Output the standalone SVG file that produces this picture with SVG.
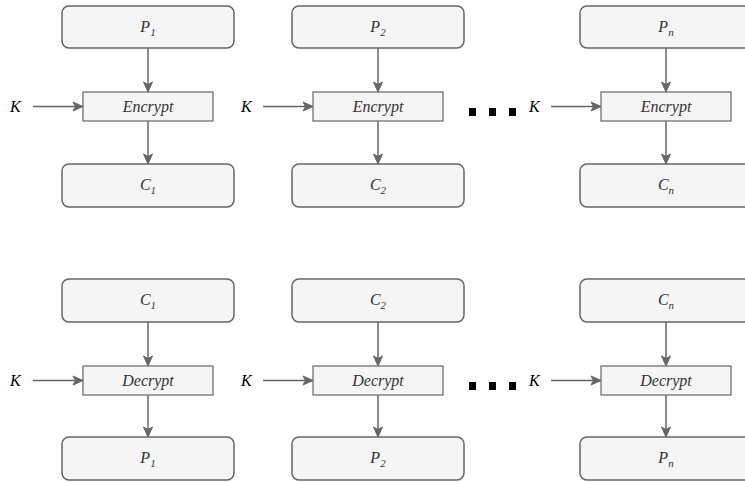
<svg xmlns="http://www.w3.org/2000/svg" width="745" height="482" viewBox="0 0 745 482">
<defs>
<marker id="ah" markerWidth="12" markerHeight="12" viewBox="0 0 12 12" refX="11" refY="6" orient="auto" markerUnits="userSpaceOnUse">
<path d="M1,1.5 L11,6 L1,10.5 L3.5,6 Z" fill="#666" stroke="#666" stroke-width="1"/>
</marker>
<style>
.big{fill:#f5f5f5;stroke:#666;stroke-width:1.5}
.op{fill:#f5f5f5;stroke:#666;stroke-width:1.2}
text{font-family:'Liberation Serif','Times New Roman','DejaVu Serif',serif;font-style:italic;font-size:16px}
.t{fill:#333;text-anchor:middle}
.k{fill:#000}
.sub{font-size:11px}
.c{stroke:#666;stroke-width:1.5;fill:none;marker-end:url(#ah)}
.dot{fill:#000}
</style>
</defs>
<g id="connectors">
<line class="c" x1="148" y1="48" x2="148" y2="92"/>
<line class="c" x1="148" y1="121" x2="148" y2="164"/>
<line class="c" x1="33" y1="106.5" x2="83" y2="106.5"/>
<line class="c" x1="378" y1="48" x2="378" y2="92"/>
<line class="c" x1="378" y1="121" x2="378" y2="164"/>
<line class="c" x1="263" y1="106.5" x2="313" y2="106.5"/>
<line class="c" x1="666" y1="48" x2="666" y2="92"/>
<line class="c" x1="666" y1="121" x2="666" y2="164"/>
<line class="c" x1="551" y1="106.5" x2="601" y2="106.5"/>
<line class="c" x1="148" y1="322" x2="148" y2="366"/>
<line class="c" x1="148" y1="395" x2="148" y2="437"/>
<line class="c" x1="33" y1="380.5" x2="83" y2="380.5"/>
<line class="c" x1="378" y1="322" x2="378" y2="366"/>
<line class="c" x1="378" y1="395" x2="378" y2="437"/>
<line class="c" x1="263" y1="380.5" x2="313" y2="380.5"/>
<line class="c" x1="666" y1="322" x2="666" y2="366"/>
<line class="c" x1="666" y1="395" x2="666" y2="437"/>
<line class="c" x1="551" y1="380.5" x2="601" y2="380.5"/>
</g>
<g id="P1_top"><rect class="big" x="62" y="6" width="172" height="42" rx="7"/><text class="t" x="148" y="32">P<tspan class="sub" dy="4">1</tspan></text></g>
<g id="enc1"><rect class="op" x="83" y="92" width="130" height="29"/><text class="t" x="148" y="112">Encrypt</text></g>
<g id="C1_top"><rect class="big" x="62" y="164" width="172" height="43" rx="7"/><text class="t" x="148" y="190">C<tspan class="sub" dy="4">1</tspan></text></g>
<g id="K1"><text class="k" x="10" y="112">K</text></g>
<g id="P2_top"><rect class="big" x="292" y="6" width="172" height="42" rx="7"/><text class="t" x="378" y="32">P<tspan class="sub" dy="4">2</tspan></text></g>
<g id="enc2"><rect class="op" x="313" y="92" width="130" height="29"/><text class="t" x="378" y="112">Encrypt</text></g>
<g id="C2_top"><rect class="big" x="292" y="164" width="172" height="43" rx="7"/><text class="t" x="378" y="190">C<tspan class="sub" dy="4">2</tspan></text></g>
<g id="K2"><text class="k" x="241" y="112">K</text></g>
<g id="Pn_top"><rect class="big" x="580" y="6" width="172" height="42" rx="7"/><text class="t" x="666" y="32">P<tspan class="sub" dy="4">n</tspan></text></g>
<g id="encn"><rect class="op" x="601" y="92" width="130" height="29"/><text class="t" x="666" y="112">Encrypt</text></g>
<g id="Cn_top"><rect class="big" x="580" y="164" width="172" height="43" rx="7"/><text class="t" x="666" y="190">C<tspan class="sub" dy="4">n</tspan></text></g>
<g id="Kn"><text class="k" x="529" y="112">K</text></g>
<g id="dots_top"><rect class="dot" x="469" y="108" width="7" height="8"/><rect class="dot" x="489" y="108" width="7" height="8"/><rect class="dot" x="509" y="108" width="7" height="8"/></g>
<g id="C1_bot"><rect class="big" x="62" y="279" width="172" height="43" rx="7"/><text class="t" x="148" y="305">C<tspan class="sub" dy="4">1</tspan></text></g>
<g id="dec1"><rect class="op" x="83" y="366" width="130" height="29"/><text class="t" x="148" y="386">Decrypt</text></g>
<g id="P1_bot"><rect class="big" x="62" y="437" width="172" height="43" rx="7"/><text class="t" x="148" y="463">P<tspan class="sub" dy="4">1</tspan></text></g>
<g id="K1b"><text class="k" x="10" y="386">K</text></g>
<g id="C2_bot"><rect class="big" x="292" y="279" width="172" height="43" rx="7"/><text class="t" x="378" y="305">C<tspan class="sub" dy="4">2</tspan></text></g>
<g id="dec2"><rect class="op" x="313" y="366" width="130" height="29"/><text class="t" x="378" y="386">Decrypt</text></g>
<g id="P2_bot"><rect class="big" x="292" y="437" width="172" height="43" rx="7"/><text class="t" x="378" y="463">P<tspan class="sub" dy="4">2</tspan></text></g>
<g id="K2b"><text class="k" x="241" y="386">K</text></g>
<g id="Cn_bot"><rect class="big" x="580" y="279" width="172" height="43" rx="7"/><text class="t" x="666" y="305">C<tspan class="sub" dy="4">n</tspan></text></g>
<g id="decn"><rect class="op" x="601" y="366" width="130" height="29"/><text class="t" x="666" y="386">Decrypt</text></g>
<g id="Pn_bot"><rect class="big" x="580" y="437" width="172" height="43" rx="7"/><text class="t" x="666" y="463">P<tspan class="sub" dy="4">n</tspan></text></g>
<g id="Knb"><text class="k" x="529" y="386">K</text></g>
<g id="dots_bot"><rect class="dot" x="469" y="382" width="7" height="8"/><rect class="dot" x="489" y="382" width="7" height="8"/><rect class="dot" x="509" y="382" width="7" height="8"/></g>
</svg>
